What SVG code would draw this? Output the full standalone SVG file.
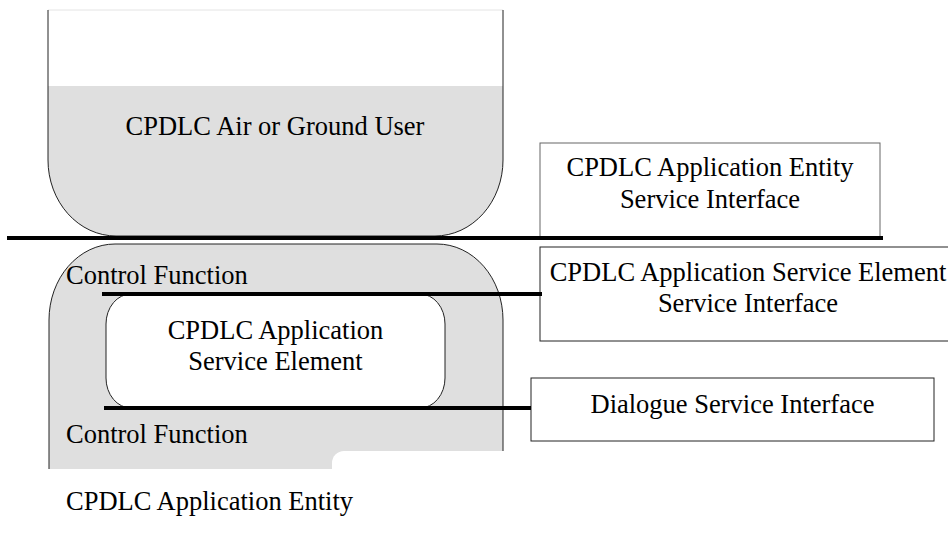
<svg xmlns="http://www.w3.org/2000/svg" width="948" height="538" viewBox="0 0 948 538">
<style>
text{font-family:"Times New Roman","Liberation Serif",Tinos,"DejaVu Serif",serif;font-size:26.5px;fill:#000}
.c{text-anchor:middle}
.shape{fill:#dfdfdf;stroke:none}
.edge{fill:none;stroke:#222;stroke-width:1}
.box{fill:#fff;stroke:#222;stroke-width:1}
.bar{stroke:#000;stroke-width:4;fill:none}
</style>
<rect width="948" height="538" fill="#fff"/>
<g id="user">
<rect x="48" y="10" width="455" height="76" fill="#fff"/>
<line x1="48" y1="10" x2="503" y2="10" stroke="#e4e4e4" stroke-width="1"/>
<path class="shape" d="M48,86 L503,86 L503,160 A68,76 0 0 1 435,236 L116,236 A68,76 0 0 1 48,160 Z"/>
<path class="edge" d="M48,10 L48,160 A68,76 0 0 0 116,236 L435,236 A68,76 0 0 0 503,160 L503,10"/>
<text class="c" x="275" y="135">CPDLC Air or Ground User</text>
</g>
<g id="entity">
<path class="shape" d="M49,469 L49,320 A66,76 0 0 1 115,244 L437,244 A66,76 0 0 1 503,320 L503,469 Z"/>
<path class="edge" d="M49,469 L49,320 A66,76 0 0 1 115,244 L437,244 A66,76 0 0 1 503,320 L503,451"/>
<rect x="332" y="451" width="220" height="60" rx="12" fill="#fff"/>
<text x="66" y="284">Control Function</text>
<text x="66" y="443">Control Function</text>
<text x="66" y="510">CPDLC Application Entity</text>
</g>
<g id="ase">
<rect class="box" x="106" y="294" width="339" height="114" rx="25" ry="30"/>
<text class="c" x="275.5" y="339">CPDLC Application</text>
<text class="c" x="275.5" y="370">Service Element</text>
</g>
<g id="ae-si">
<rect x="540" y="143" width="340" height="95" fill="#fff" stroke="#666" stroke-width="1"/>
<text class="c" x="710" y="176">CPDLC Application Entity</text>
<text class="c" x="710" y="208">Service Interface</text>
</g>
<g id="ase-si">
<rect class="box" x="540" y="247" width="416" height="94"/>
<text class="c" x="748" y="281">CPDLC Application Service Element</text>
<text class="c" x="748" y="312">Service Interface</text>
</g>
<g id="dsi">
<rect class="box" x="531" y="378" width="403" height="63"/>
<text class="c" x="732.5" y="413">Dialogue Service Interface</text>
</g>
<g id="connectors">
<line class="bar" x1="7" y1="238" x2="883" y2="238"/>
<line class="bar" x1="102" y1="294" x2="542" y2="294"/>
<line class="bar" x1="104" y1="408" x2="531" y2="408"/>
</g>
</svg>
